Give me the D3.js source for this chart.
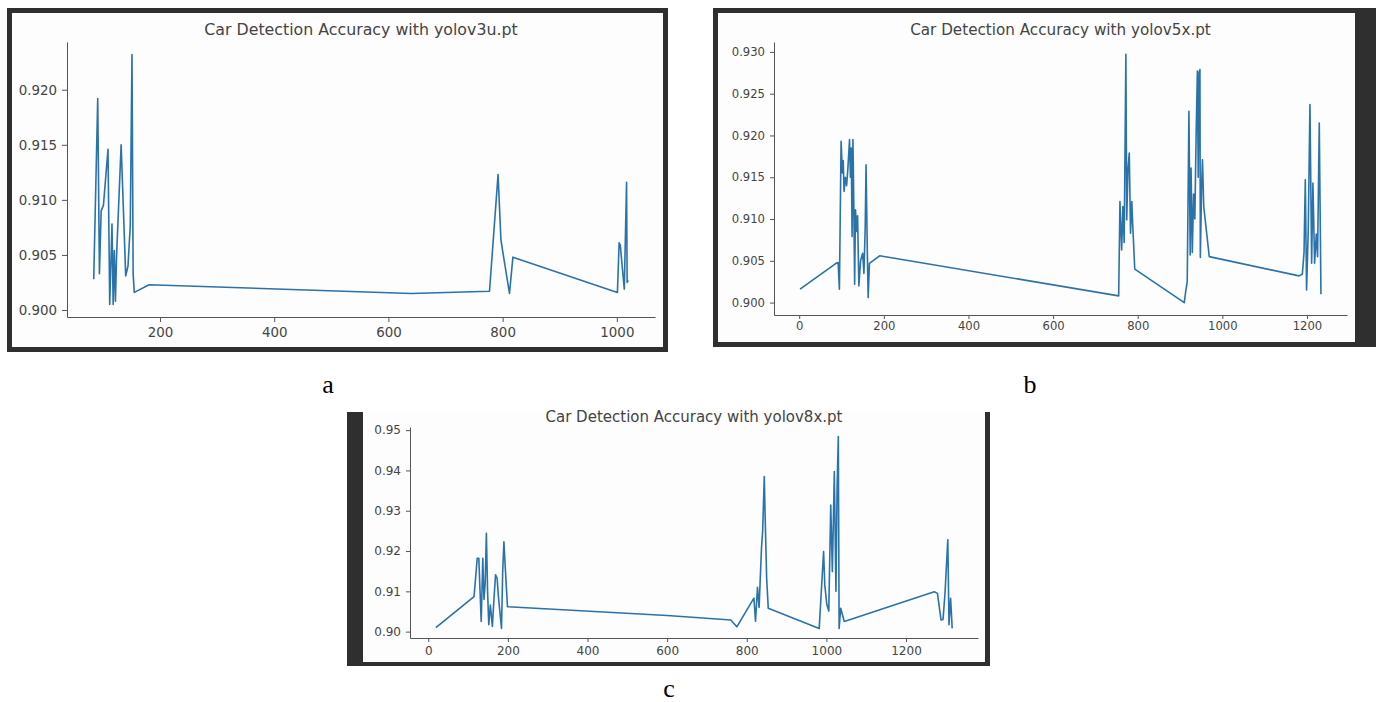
<!DOCTYPE html>
<html>
<head>
<meta charset="utf-8">
<script src="https://cdn.jsdelivr.net/npm/d3@7"></script>
<style>
    body { margin: 0; background: #fff; }
    svg { display: block; font-family: "DejaVu Sans", sans-serif; }
</style>
</head>
<body>
<svg id="chart" width="1376" height="702"></svg>
<script>
// titles + panel letters
const titles = [
    'Car Detection Accuracy with yolov3u.pt',
    'Car Detection Accuracy with yolov5x.pt',
    'Car Detection Accuracy with yolov8x.pt'
];
const panelLetters = ['a', 'b', 'c'];

// (a) yolov3u
const aX = [84, 91, 94, 97, 101, 109, 112, 116, 118, 120, 122, 124, 132, 140, 144, 148, 151, 153, 155, 181,
    640, 777, 792, 797, 799, 812, 818, 1001, 1004, 1006, 1013, 1017, 1018, 1020];
const aY = [0.9028, 0.9192, 0.9033, 0.9090, 0.9095, 0.9146, 0.9005, 0.9078, 0.9005, 0.9054, 0.9008, 0.9049,
    0.9150, 0.9031, 0.9040, 0.9077, 0.9232, 0.9033, 0.9016, 0.9023,
    0.9015, 0.9017, 0.9123, 0.9064, 0.9057, 0.9015, 0.9048, 0.9016, 0.9061, 0.9059, 0.9019, 0.9116, 0.9025, 0.9027];
const aXTicks = [200, 400, 600, 800, 1000];
const aYTicks = [0.900, 0.905, 0.910, 0.915, 0.920];

// (b) yolov5x
const bX = [2, 87, 92, 95, 99, 102, 104, 106, 109, 112, 115, 119, 121, 123, 125, 127, 129, 131, 133, 136,
    138, 141, 145, 150, 153, 156, 158, 161, 163, 166, 190,
    755, 758, 762, 765, 768, 772, 774, 777, 780, 783, 786, 788, 790, 793,
    910, 913, 917, 921, 924, 926, 929, 932, 935, 938, 941, 943, 945, 947, 948, 951, 953, 956, 969,
    1181, 1189, 1193, 1196, 1199, 1203, 1207, 1211, 1214, 1218, 1222, 1225, 1229, 1233];
const bY = [0.9016, 0.9047, 0.9048, 0.9016, 0.9193, 0.9155, 0.9170, 0.9133, 0.9150, 0.9140, 0.9160, 0.9195,
    0.9150, 0.9185, 0.9079, 0.9195, 0.9120, 0.9022, 0.9111, 0.9085,
    0.9104, 0.9020, 0.9050, 0.9059, 0.9035, 0.9090, 0.9165, 0.9060, 0.9006, 0.9047, 0.9056,
    0.9008, 0.9121, 0.9063, 0.9115, 0.9072, 0.9297, 0.9099, 0.9160, 0.9179, 0.9083, 0.9121, 0.9095, 0.9073, 0.9040,
    0.9000, 0.9012, 0.9025, 0.9229, 0.9057, 0.9161, 0.9060, 0.9130, 0.9100, 0.9200, 0.9277, 0.9150, 0.9275, 0.9279,
    0.9054, 0.9140, 0.9171, 0.9115, 0.9055,
    0.9032, 0.9034, 0.9060, 0.9147, 0.9015, 0.9087, 0.9237, 0.9047, 0.9143, 0.9047, 0.9082, 0.9055, 0.9215, 0.9010];
const bXTicks = [0, 200, 400, 600, 800, 1000, 1200];
const bYTicks = [0.900, 0.905, 0.910, 0.915, 0.920, 0.925, 0.930];

// (c) yolov8x
const cX = [19, 115, 123, 127, 133, 137, 140, 143, 146, 149, 152, 156, 161, 165, 169, 173, 176, 179, 184, 187,
    190, 194, 199, 600, 760, 775, 818, 822, 827, 831, 837, 840, 844, 846, 850, 854,
    982, 993, 996, 1001, 1006, 1011, 1015, 1020, 1024, 1027, 1030, 1032, 1036, 1045,
    1271, 1279, 1288, 1293, 1298, 1305, 1308, 1312, 1316];
const cY = [0.9010, 0.9087, 0.9182, 0.9182, 0.9025, 0.9182, 0.9080, 0.9120, 0.9244, 0.9101, 0.9017, 0.9066,
    0.9013, 0.9080, 0.9141, 0.9132, 0.9090, 0.9059, 0.9008, 0.9150,
    0.9223, 0.9150, 0.9062, 0.9040, 0.9029, 0.9012, 0.9083, 0.9026, 0.9110, 0.9060, 0.9207, 0.9250, 0.9385,
    0.9293, 0.9132, 0.9058,
    0.9008, 0.9199, 0.9116, 0.9068, 0.9051, 0.9314, 0.9149, 0.9397, 0.9100, 0.9360, 0.9484, 0.9008, 0.9058, 0.9025,
    0.9099, 0.9095, 0.9029, 0.9030, 0.9096, 0.9228, 0.9017, 0.9083, 0.9008];
const cXTicks = [0, 200, 400, 600, 800, 1000, 1200];
const cYTicks = [0.90, 0.91, 0.92, 0.93, 0.94, 0.95];

// layout for each screenshot
const panels = [
    {
        title: titles[0], xs: aX, ys: aY, xTicks: aXTicks, yTicks: aYTicks, yFmt: '.3f',
        outer: [7, 8, 668, 352], inner: [12, 13, 663, 347],
        plot: { l: 67, r: 655, t: 42, b: 317 },
        titleY: 35, titleSize: 15.8, tickSize: 13.4, tick: 5, padX: 5, padY: 5,
        letter: panelLetters[0], letterX: 328, letterY: 393
    },
    {
        title: titles[1], xs: bX, ys: bY, xTicks: bXTicks, yTicks: bYTicks, yFmt: '.3f',
        outer: [713, 8, 1376, 347], inner: [718, 13, 1355, 342],
        plot: { l: 774, r: 1347, t: 42, b: 315 },
        titleY: 35, titleSize: 15.2, tickSize: 11.6, tick: 4, padX: 3, padY: 5,
        letter: panelLetters[1], letterX: 1030, letterY: 393
    },
    {
        title: titles[2], xs: cX, ys: cY, xTicks: cXTicks, yTicks: cYTicks, yFmt: '.2f',
        outer: [347, 412, 990, 666], inner: [363, 412, 985, 662],
        plot: { l: 410, r: 978, t: 427, b: 638 },
        titleY: 422, titleSize: 15, tickSize: 12, tick: 4, padX: 4, padY: 5,
        letter: panelLetters[2], letterX: 669, letterY: 697
    }
];

const svg = d3.select('#chart');

// matplotlib default 5% margins
function padded(vals) {
    const [lo, hi] = d3.extent(vals);
    const m = (hi - lo) * 0.05;
    return [lo - m, hi + m];
}

function drawPanel(p) {
    const o = p.outer, n = p.inner;
    svg.append('rect')
        .attr('x', o[0]).attr('y', o[1])
        .attr('width', o[2] - o[0]).attr('height', o[3] - o[1])
        .attr('fill', '#2f2f2f');
    svg.append('rect')
        .attr('x', n[0]).attr('y', n[1])
        .attr('width', n[2] - n[0]).attr('height', n[3] - n[1])
        .attr('fill', '#fdfdfd');

    const x = d3.scaleLinear().domain(padded(p.xs)).range([p.plot.l, p.plot.r]);
    const y = d3.scaleLinear().domain(padded(p.ys)).range([p.plot.b, p.plot.t]);

    const xAxis = svg.append('g')
        .attr('transform', `translate(0,${p.plot.b})`)
        .call(d3.axisBottom(x).tickValues(p.xTicks).tickFormat(d3.format('d'))
            .tickSize(p.tick).tickSizeOuter(0).tickPadding(p.padX));

    const yAxis = svg.append('g')
        .attr('transform', `translate(${p.plot.l},0)`)
        .call(d3.axisLeft(y).tickValues(p.yTicks).tickFormat(d3.format(p.yFmt))
            .tickSize(p.tick).tickSizeOuter(0).tickPadding(p.padY));

    [xAxis, yAxis].forEach(ax => {
        ax.select('.domain').attr('stroke', '#555').attr('stroke-width', 1);
        ax.selectAll('.tick line').attr('stroke', '#555');
        ax.selectAll('.tick text')
            .attr('fill', '#444')
            .style('font-family', '"DejaVu Sans", sans-serif')
            .style('font-size', p.tickSize + 'px');
    });

    const pts = p.xs.map((v, i) => [v, p.ys[i]]);
    svg.append('path')
        .datum(pts)
        .attr('fill', 'none')
        .attr('stroke', '#2a72aa')
        .attr('stroke-width', 1.6)
        .attr('stroke-linejoin', 'round')
        .attr('d', d3.line().x(d => x(d[0])).y(d => y(d[1])));

    svg.append('text')
        .attr('x', (p.plot.l + p.plot.r) / 2)
        .attr('y', p.titleY)
        .attr('text-anchor', 'middle')
        .attr('fill', '#444')
        .style('font-size', p.titleSize + 'px')
        .text(p.title);

    svg.append('text')
        .attr('x', p.letterX)
        .attr('y', p.letterY)
        .attr('text-anchor', 'middle')
        .attr('fill', '#000')
        .style('font-family', '"Liberation Serif", "Times New Roman", serif')
        .style('font-size', '26px')
        .text(p.letter);
}

panels.forEach(drawPanel);
</script>
</body>
</html>
